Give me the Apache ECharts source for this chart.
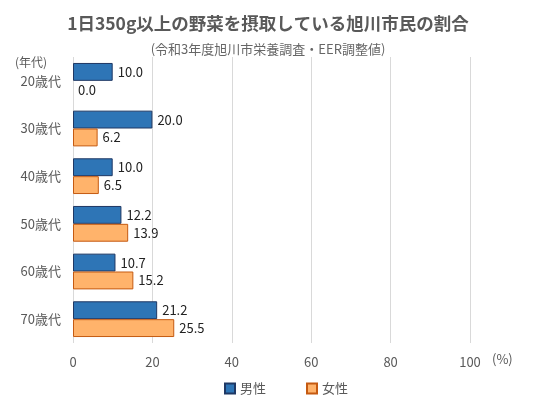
<!DOCTYPE html>
<html>
<head>
<meta charset="utf-8">
<script src="https://cdn.jsdelivr.net/npm/echarts@6/dist/echarts.min.js"></script>
<style>
  html, body { margin: 0; padding: 0; background: #fff; }
  #chart { width: 536px; height: 398px; }
</style>
</head>
<body>
<div id="chart"></div>
<script>
var ageGroups = ['20歳代', '30歳代', '40歳代', '50歳代', '60歳代', '70歳代']
var maleValues = [10.0, 20.0, 10.0, 12.2, 10.7, 21.2]
var femaleValues = [0.0, 6.2, 6.5, 13.9, 15.2, 25.5]
var xTicks = [0, 20, 40, 60, 80, 100]

var fontFamily = '"Noto Sans CJK JP", "Noto Sans", sans-serif'
var grey = '#595959'

var chart = echarts.init(document.getElementById('chart'))

var labelOpt = {
  show: true,
  position: 'right',
  distance: 5,
  color: '#222',
  fontSize: 13,
  fontFamily: fontFamily,
  formatter: function (p) { return p.value.toFixed(1) }
}

// 値が0の棒は枠線を消す
function toItems (values) {
  return values.map(function (v) {
    return v === 0 ? { value: v, itemStyle: { borderWidth: 0 } } : v
  })
}

var option = {
  animation: false,
  textStyle: { fontFamily: fontFamily },
  title: [{
    text: '1日350g以上の野菜を摂取している旭川市民の割合',
    left: 'center',
    top: 10,
    textStyle: { fontSize: 17.5, fontWeight: 'bold', color: grey, fontFamily: fontFamily }
  }, {
    text: '(令和3年度旭川市栄養調査・EER調整値)',
    left: 'center',
    top: 38,
    textStyle: { fontSize: 13, fontWeight: 'normal', color: '#666', fontFamily: fontFamily }
  }],
  graphic: [{
    type: 'text',
    left: 15,
    top: 56,
    style: { text: '(年代)', fontSize: 12, fill: grey, fontFamily: fontFamily }
  }, {
    type: 'text',
    left: 492,
    top: 353,
    style: { text: '(%)', fontSize: 13, fill: grey, fontFamily: fontFamily }
  }],
  legend: {
    top: 377,
    left: 219,
    itemWidth: 10,
    itemHeight: 10,
    itemGap: 40,
    icon: 'rect',
    textStyle: { fontSize: 13, color: grey },
    data: ['男性', '女性']
  },
  grid: { left: 73, right: 66, top: 57, bottom: 55 },
  xAxis: {
    type: 'value',
    min: xTicks[0],
    max: xTicks[xTicks.length - 1],
    interval: 20,
    axisLine: { show: false },
    axisTick: { show: false },
    axisLabel: { color: grey, fontSize: 13, margin: 13 },
    splitLine: { lineStyle: { color: '#d9d9d9', width: 1 } }
  },
  yAxis: {
    type: 'category',
    inverse: true,
    data: ageGroups,
    axisLine: { show: false },
    axisTick: { show: false },
    axisLabel: { color: grey, fontSize: 13, margin: 12 }
  },
  series: [{
    name: '男性',
    type: 'bar',
    data: toItems(maleValues),
    barGap: 0,
    barCategoryGap: '25%',
    itemStyle: { color: '#2E75B6', borderColor: '#1F3864', borderWidth: 1 },
    label: labelOpt
  }, {
    name: '女性',
    type: 'bar',
    data: toItems(femaleValues),
    barGap: 0,
    barCategoryGap: '25%',
    itemStyle: { color: '#FFB36B', borderColor: '#C55A11', borderWidth: 1 },
    label: labelOpt
  }]
}

chart.setOption(option)
</script>
</body>
</html>
